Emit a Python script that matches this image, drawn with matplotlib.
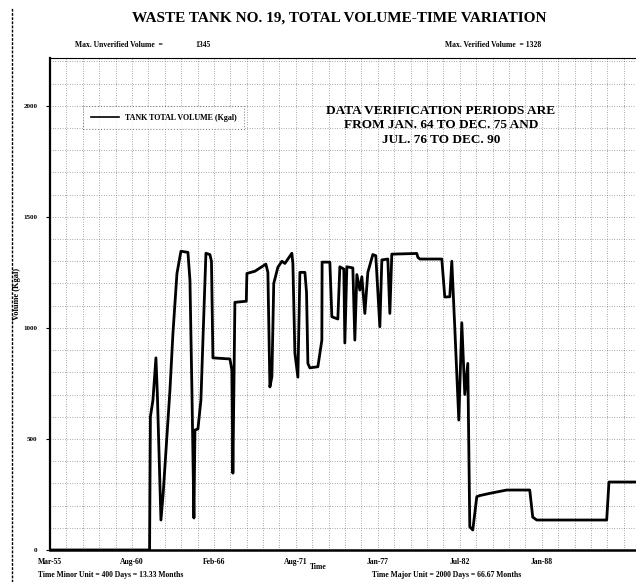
import matplotlib
matplotlib.use("Agg")
import matplotlib.pyplot as plt
from matplotlib.lines import Line2D
from matplotlib.ticker import MultipleLocator

plt.rcParams['font.family'] = ['Liberation Serif', 'DejaVu Serif']
plt.rcParams['font.weight'] = 'bold'

# tiempo en dias desde Mar-55, volumen en Kgal
dias = [0, 2430, 2450, 2512, 2585, 2620, 2707, 2760, 2927, 3000, 3098, 3195,
        3366, 3415, 3463, 3512, 3537, 3610, 3683, 3732, 3805, 3902, 3940, 3976,
        4390, 4439, 4463, 4512, 4790, 4805, 5000, 5268, 5317, 5366, 5415, 5460,
        5561, 5659, 5732, 5902, 5927, 5976, 6049, 6098, 6220, 6260, 6293, 6341,
        6537, 6634, 6640, 6829, 6878, 7024, 7073, 7170, 7195, 7244, 7390, 7439,
        7488, 7561, 7610, 7683, 7756, 7878, 7950, 8049, 8098, 8244, 8293, 8341,
        8951, 8976, 9024, 9561, 9634, 9756, 9805, 9878, 9976, 10049, 10122,
        10195, 10244, 10317, 10415, 10488, 10732, 11146, 11707, 11780, 11878,
        13585, 13640, 14300]
volumen = [0, 0, 600, 675, 865, 700, 135, 250, 720, 975, 1245, 1345,
           1340, 1215, 720, 144, 540, 545, 675, 945, 1336, 1330, 1300, 865,
           860, 810, 346, 1115, 1120, 1245, 1255, 1287, 1250, 734, 780, 1200,
           1273, 1300, 1290, 1336, 1290, 886, 778, 1250, 1250, 1160, 840, 820,
           825, 945, 1296, 1296, 1050, 1040, 1275, 1265, 932, 1275, 1270, 945,
           1240, 1170, 1230, 1065, 1250, 1330, 1325, 1005, 1306, 1310, 1065, 1332,
           1335, 1318, 1310, 1310, 1139, 1140, 1300, 1000, 585, 1023, 700,
           840, 104, 90, 240, 245, 255, 270, 270, 148, 135,
           135, 306, 306]

etiquetas_x = ["Mar-55", "Aug-60", "Feb-66", "Aug-71", "Jan-77", "Jul-82", "Jan-88"]
posiciones_x = [0, 2000, 4000, 6000, 8000, 10000, 12000]
etiquetas_y = ["0", "500", "1000", "1500", "2000"]
posiciones_y = [0, 500, 1000, 1500, 2000]

fig = plt.figure(figsize=(6.36, 5.82), dpi=100)
ax = fig.add_axes([50/636, 32/582, 1 - 50/636, (550-58)/582])

ax.plot(dias, volumen, color="black", linewidth=2.0, label="TANK TOTAL VOLUME (Kgal)")
ax.set_xlim(0, 14300)
ax.set_ylim(0, 2215)

ax.set_xticks(posiciones_x)
ax.set_xticklabels(etiquetas_x, fontsize=5.5, fontweight="bold")
ax.set_yticks(posiciones_y)
ax.set_yticklabels(etiquetas_y, fontsize=5, fontweight="bold")
ax.xaxis.set_minor_locator(MultipleLocator(400))
ax.yaxis.set_minor_locator(MultipleLocator(100))
ax.tick_params(axis="x", which="both", length=0, pad=6)
ax.tick_params(axis="y", which="major", length=3, direction="out", pad=6)
ax.tick_params(axis="y", which="minor", length=0)

ax.grid(True, which="both", linestyle=(0, (1, 2.5)), linewidth=0.5, color="#5a5a5a")
ax.set_axisbelow(True)

ax.spines["left"].set_linewidth(1.6)
ax.spines["bottom"].set_linewidth(1.8)
ax.spines["top"].set_linewidth(0.8)
ax.spines["right"].set_visible(False)

ax.set_ylabel("Volume (Kgal)", fontsize=6, fontweight="bold")
ax.yaxis.set_label_coords(-0.05, 0.52)

leg = ax.legend(loc="upper left", bbox_to_anchor=(0.05, 0.91), fontsize=5.8,
                frameon=True, fancybox=False, handlelength=3.5, borderpad=0.9)
leg.get_frame().set_edgecolor("#555555")
leg.get_frame().set_linestyle((0, (1, 2)))
leg.get_frame().set_linewidth(0.7)
for h in leg.legend_handles:
    h.set_linewidth(1.2)

ax.text(0.667, 0.905, "DATA VERIFICATION PERIODS ARE\nFROM JAN. 64 TO DEC. 75 AND\nJUL. 76 TO DEC. 90",
        transform=ax.transAxes, ha="center", va="top", fontsize=9.5,
        fontweight="bold", linespacing=1.3)

fig.text(339/636, 1 - 18/582, "WASTE TANK NO. 19, TOTAL VOLUME-TIME VARIATION",
         ha="center", va="center", fontsize=11, fontweight="bold")
fig.text(75/636, 1 - 45/582, "Max. Unverified Volume  =", ha="left", va="center",
         fontsize=5.5, fontweight="bold")
fig.text(195/636, 1 - 45/582, "1345", ha="left", va="center", fontsize=5.5, fontweight="bold")
fig.text(445/636, 1 - 45/582, "Max. Verified Volume  = 1328", ha="left", va="center",
         fontsize=5.5, fontweight="bold")

fig.text(38/636, 1 - 575/582, "Time Minor Unit = 400 Days = 13.33 Months", ha="left",
         va="center", fontsize=5.5, fontweight="bold")
fig.text(318/636, 1 - 567/582, "Time", ha="center", va="center", fontsize=5.5, fontweight="bold")
fig.text(372/636, 1 - 575/582, "Time Major Unit = 2000 Days = 66.67 Months", ha="left",
         va="center", fontsize=5.5, fontweight="bold")

# borde izquierdo de la hoja escaneada
fig.add_artist(Line2D([12/636, 12/636], [0, 1 - 8/582], transform=fig.transFigure,
                      color="black", linewidth=1.0, linestyle=(0, (2, 1))))

fig.savefig("out.png", dpi=100)
